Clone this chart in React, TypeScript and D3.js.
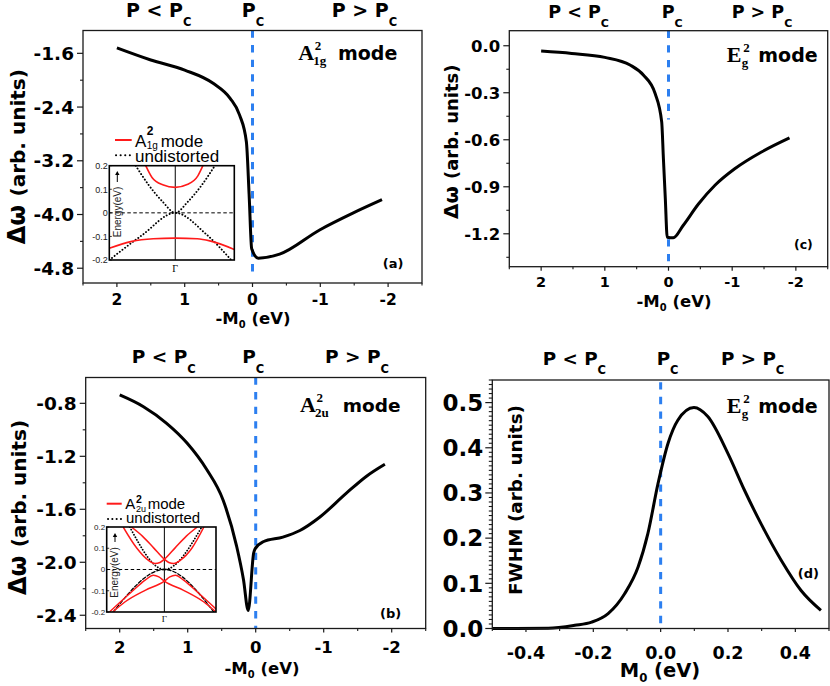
import React from "react";
import * as d3 from "d3";

const SANS = "'DejaVu Sans', Verdana, sans-serif";
const SERIF = "'Liberation Serif', 'Times New Roman', serif";
const HELV = "'Liberation Sans', Arial, sans-serif";
const BLUE = "#2C7FF0";

// ---------- panel (a): A1g mode ----------
const aM = [2.0, 1.5, 1.0, 0.575, 0.33, 0.19, 0.09, 0.05, 0.012, -0.085, -0.4, -0.99, -1.48, -1.91];
const aW = [-1.52, -1.7, -1.85, -2.05, -2.27, -2.52, -2.92, -3.7, -4.51, -4.65, -4.59, -4.23, -3.98, -3.78];
const aYTicks = [-1.6, -2.4, -3.2, -4.0, -4.8];
const aYLabels = ["-1.6", "-2.4", "-3.2", "-4.0", "-4.8"];
const aYMinor = [-2.0, -2.8, -3.6, -4.4];

// ---------- panel (b): A2u mode ----------
const bM = [2.0, 1.65, 1.31, 1.01, 0.72, 0.48, 0.28, 0.18, 0.11, 0.03, 0.01, -0.11, -0.4, -0.65, -0.94, -1.33, -1.63, -1.9];
const bW = [-0.737, -0.826, -0.951, -1.1, -1.3, -1.53, -1.88, -2.13, -2.365, -1.93, -1.9, -1.845, -1.81, -1.76, -1.66, -1.48, -1.35, -1.26];
const bYTicks = [-0.8, -1.2, -1.6, -2.0, -2.4];
const bYLabels = ["-0.8", "-1.2", "-1.6", "-2.0", "-2.4"];
const bYMinor = [-1.0, -1.4, -1.8, -2.2];

// ---------- panel (c): Eg mode ----------
const cM = [2.0, 1.52, 1.0, 0.604, 0.395, 0.21, 0.107, 0.08, 0.05, 0.02, -0.075, -0.23, -0.47, -0.73, -1.04, -1.46, -1.9];
const cW = [-0.034, -0.049, -0.074, -0.123, -0.187, -0.305, -0.486, -0.72, -0.976, -1.222, -1.226, -1.147, -1.01, -0.89, -0.785, -0.678, -0.588];
const cYTicks = [0.0, -0.3, -0.6, -0.9, -1.2];
const cYLabels = ["0.0", "-0.3", "-0.6", "-0.9", "-1.2"];
const cYMinor = [-0.15, -0.45, -0.75, -1.05, -1.35];

// shared x ticks for (a)-(c)
const mXTicks = [2, 1, 0, -1, -2];
const mXLabels = ["2", "1", "0", "-1", "-2"];
const mXMinor = [2.5, 1.5, 0.5, -0.5, -1.5, -2.5];

// ---------- panel (d): FWHM ----------
const dM = [-0.5, -0.334, -0.255, -0.205, -0.156, -0.107, -0.067, -0.038, -0.008, 0.022, 0.051, 0.099, 0.14, 0.2, 0.249, 0.298, 0.358, 0.417, 0.476];
const dF = [0.0, 0.0005, 0.007, 0.014, 0.033, 0.077, 0.136, 0.21, 0.32, 0.41, 0.461, 0.489, 0.469, 0.387, 0.306, 0.232, 0.151, 0.084, 0.04];
const dXTicks = [-0.4, -0.2, 0.0, 0.2, 0.4];
const dXLabels = ["-0.4", "-0.2", "0.0", "0.2", "0.4"];
const dXMinor = [-0.5, -0.3, -0.1, 0.1, 0.3, 0.5];
const dYTicks = [0.0, 0.1, 0.2, 0.3, 0.4, 0.5];
const dYLabels = ["0.0", "0.1", "0.2", "0.3", "0.4", "0.5"];

// ---------- insets (band structure near Gamma) ----------
const insetETicks = [0.2, 0.1, 0, -0.1, -0.2];
const insetELabels = ["0.2", "0.1", "0", "-0.1", "-0.2"];
// inset (a)
const iaRedUpK = [-0.47, -0.37, -0.2, 0, 0.2, 0.36, 0.44];
const iaRedUpE = [0.2, 0.15, 0.119, 0.108, 0.121, 0.157, 0.2];
const iaRedLoK = [-1.05, -0.69, -0.35, 0, 0.35, 0.55, 0.94];
const iaRedLoE = [-0.15, -0.121, -0.11, -0.107, -0.11, -0.119, -0.155];
const iaDotUpK = [-0.63, -0.42, -0.2, 0, 0.2, 0.42, 0.63];
const iaDotUpE = [0.2, 0.117, 0.047, 0, 0.047, 0.117, 0.2];
const iaDotLoK = [-1.05, -0.53, 0, 0.49, 0.94];
const iaDotLoE = [-0.2, -0.095, 0, -0.09, -0.215];
// inset (b)
const ibRedU1K = [-0.75, -0.5, -0.3, -0.17, -0.08, 0, 0.2, 0.4, 0.6];
const ibRedU1E = [0.2, 0.1, 0.045, 0.028, 0.033, 0.048, 0.103, 0.157, 0.2];
const ibRedU2K = [-0.6, -0.4, -0.2, 0, 0.08, 0.17, 0.3, 0.5, 0.72];
const ibRedU2E = [0.2, 0.157, 0.103, 0.048, 0.033, 0.028, 0.045, 0.1, 0.2];
const ibRedL1K = [-1.0, -0.6, -0.35, -0.2, -0.1, 0, 0.35, 0.72, 0.94];
const ibRedL1E = [-0.2, -0.106, -0.05, -0.027, -0.035, -0.055, -0.098, -0.153, -0.2];
const ibRedL2K = [-0.94, -0.72, -0.35, 0, 0.1, 0.2, 0.35, 0.6, 1.0];
const ibRedL2E = [-0.2, -0.153, -0.098, -0.055, -0.035, -0.027, -0.05, -0.106, -0.2];
const ibDotUpK = [-0.63, 0, 0.68];
const ibDotUpE = [0.2, 0, 0.2];
const ibDashLoK = [-0.93, 0, 0.9];
const ibDashLoE = [-0.2, 0, -0.2];

const zip = (a: number[], b: number[]) => a.map((v, i) => [v, b[i]] as [number, number]);

type Box = { left: number; right: number; top: number; bottom: number };

type PanelProps = Box & {
  id: string;
  xDomain: [number, number];
  yDomain: [number, number];
  xTicks: number[]; xLabels: string[]; xMinor: number[];
  yTicks: number[]; yLabels: string[]; yMinor: number[];
  xFont: number; yFont: number; xLabelOffset: number;
  yMajorLen: number; yMinorLen: number; xMajorLen: number; xMinorLen: number;
  data: [number, number][];
  dashes: [number, number][];
};

function Panel(p: PanelProps) {
  const x = d3.scaleLinear().domain(p.xDomain).range([p.left, p.right]);
  const y = d3.scaleLinear().domain(p.yDomain).range([p.bottom, p.top]);
  const line = d3
    .line<[number, number]>()
    .x((d) => x(d[0]))
    .y((d) => y(d[1]))
    .curve(d3.curveMonotoneX);
  const ax = "#1a1a1a";
  return (
    <g>
      {p.dashes.map((s, i) => (
        <line key={"ds" + i} x1={x(0)} x2={x(0)} y1={y(s[0])} y2={y(s[1])} stroke={BLUE} strokeWidth={3} strokeDasharray="7.3,7.3" />
      ))}
      <path d={line(p.data) || ""} fill="none" stroke="#000" strokeWidth={3} strokeLinejoin="round" />
      <rect x={p.left} y={p.top} width={p.right - p.left} height={p.bottom - p.top} fill="none" stroke={ax} strokeWidth={1.3} />
      {p.xTicks.map((t, i) => (
        <g key={"xt" + i}>
          <line x1={x(t)} x2={x(t)} y1={p.bottom} y2={p.bottom + p.xMajorLen} stroke={ax} strokeWidth={1.2} />
          <text x={x(t)} y={p.bottom + p.xLabelOffset} fontFamily={SANS} fontWeight="bold" fontSize={p.xFont} textAnchor="middle">
            {p.xLabels[i]}
          </text>
        </g>
      ))}
      {p.xMinor.map((t, i) => (
        <line key={"xm" + i} x1={x(t)} x2={x(t)} y1={p.bottom} y2={p.bottom + p.xMinorLen} stroke={ax} strokeWidth={1.1} />
      ))}
      {p.yTicks.map((t, i) => (
        <g key={"yt" + i}>
          <line x1={p.left - p.yMajorLen} x2={p.left} y1={y(t)} y2={y(t)} stroke={ax} strokeWidth={1.2} />
          <text x={p.left - 9} y={y(t) + p.yFont * 0.36} fontFamily={SANS} fontWeight="bold" fontSize={p.yFont} textAnchor="end">
            {p.yLabels[i]}
          </text>
        </g>
      ))}
      {p.yMinor.map((t, i) => (
        <line key={"ym" + i} x1={p.left - p.yMinorLen} x2={p.left} y1={y(t)} y2={y(t)} stroke={ax} strokeWidth={1.1} />
      ))}
    </g>
  );
}

type InsetLine = { k: number[]; e: number[]; color: string; dash?: string; width: number };

function Inset(p: Box & { id: string; lines: InsetLine[]; tickFont: number; gammaY: number; arrowX: number; arrowTop: number; arrowBottom: number; energyX: number; energyY: number }) {
  const x = d3.scaleLinear().domain([-1.05, 0.94]).range([p.left, p.right]);
  const y = d3.scaleLinear().domain([-0.2, 0.2]).range([p.bottom, p.top]);
  const line = d3
    .line<[number, number]>()
    .x((d) => x(d[0]))
    .y((d) => y(d[1]))
    .curve(d3.curveMonotoneX);
  return (
    <g>
      <defs>
        <clipPath id={p.id}>
          <rect x={p.left} y={p.top} width={p.right - p.left} height={p.bottom - p.top} />
        </clipPath>
      </defs>
      <rect x={p.left} y={p.top} width={p.right - p.left} height={p.bottom - p.top} fill="#fff" />
      <g clipPath={`url(#${p.id})`}>
        <line x1={x(0)} x2={x(0)} y1={p.top} y2={p.bottom} stroke="#000" strokeWidth={1} />
        <line x1={p.left} x2={p.right} y1={y(0)} y2={y(0)} stroke="#000" strokeWidth={1} strokeDasharray="3.5,2.5" />
        {p.lines.map((l, i) => (
          <path key={i} d={line(zip(l.k, l.e)) || ""} fill="none" stroke={l.color} strokeWidth={l.width} strokeDasharray={l.dash} strokeLinecap={l.dash ? "round" : "butt"} />
        ))}
      </g>
      <rect x={p.left} y={p.top} width={p.right - p.left} height={p.bottom - p.top} fill="none" stroke="#000" strokeWidth={1.6} />
      {insetETicks.map((t, i) => (
        <g key={i}>
          <line x1={p.left} x2={p.left + 2.5} y1={y(t)} y2={y(t)} stroke="#000" strokeWidth={0.8} />
          <text x={p.left - 1.5} y={y(t) + p.tickFont * 0.36} fontFamily={HELV} fontSize={p.tickFont} textAnchor="end" fill="#222">
            {insetELabels[i]}
          </text>
        </g>
      ))}
      <text x={x(0)} y={p.gammaY} fontFamily={SERIF} fontSize={p.tickFont + 1} textAnchor="middle">Γ</text>
      <text transform={`translate(${p.energyX},${p.energyY}) rotate(-90)`} fontFamily={HELV} fontSize={10} textAnchor="middle" fill="#222">
        Energy(eV)
      </text>
      <line x1={p.arrowX} x2={p.arrowX} y1={p.arrowBottom} y2={p.arrowTop + 3} stroke="#000" strokeWidth={1} />
      <path d={`M${p.arrowX - 2.2},${p.arrowTop + 4} L${p.arrowX},${p.arrowTop} L${p.arrowX + 2.2},${p.arrowTop + 4} Z`} fill="#000" />
    </g>
  );
}

function PLabels({ xs, y, size, sub }: { xs: number[]; y: number; size: number; sub: number }) {
  const texts = ["P < P", "P", "P > P"];
  return (
    <g fontFamily={SANS} fontWeight="bold">
      {xs.map((x, i) => (
        <text key={i} x={x} y={y} fontSize={size}>
          {texts[i]}
          <tspan fontSize={sub} dy={size * 0.5}>C</tspan>
        </text>
      ))}
    </g>
  );
}

function ModeLabel({ x, y, main, sup, sub, modeX, mSize }: { x: number; y: number; main: string; sup: string; sub: string; modeX: number; mSize: number }) {
  return (
    <text x={x} y={y} fontWeight="bold" fontFamily={SERIF} fontSize={22}>
      {main}
      <tspan x={x + 16.5} dy={-10} fontSize={13}>{sup}</tspan>
      <tspan x={x + 15} dy={15} fontSize={13}>{sub}</tspan>
      <tspan x={modeX} dy={-5} fontFamily={SANS} fontSize={mSize}>mode</tspan>
    </text>
  );
}

function LegendMode({ x, y, size, supX, supDy, supSize, subDy, subSize, sub, modeX }: { x: number; y: number; size: number; supX: number; supDy: number; supSize: number; subDy: number; subSize: number; sub: string; modeX: number }) {
  return (
    <text x={x} y={y} fontFamily={HELV} fontSize={size}>
      A
      <tspan x={supX} dy={supDy} fontSize={supSize} fontWeight="bold">2</tspan>
      <tspan x={supX} dy={subDy - supDy} fontSize={subSize}>{sub}</tspan>
      <tspan x={modeX} dy={-subDy}>mode</tspan>
    </text>
  );
}

function YTitle({ x, y, prefix, rest, pSize, rSize }: { x: number; y: number; prefix: string; rest: string; pSize: number; rSize: number }) {
  return (
    <text transform={`translate(${x},${y}) rotate(-90)`} textAnchor="middle" fontFamily={SANS} fontWeight="bold">
      <tspan fontSize={pSize}>{prefix}</tspan>
      <tspan fontSize={rSize}>{rest}</tspan>
    </text>
  );
}

function XTitle({ x, y, pre, post, size }: { x: number; y: number; pre: string; post: string; size: number }) {
  return (
    <text x={x} y={y} textAnchor="middle" fontFamily={SANS} fontWeight="bold" fontSize={size}>
      {pre}
      <tspan fontSize={size * 0.6} dy={size * 0.25}>0</tspan>
      <tspan dy={-size * 0.25}>{post}</tspan>
    </text>
  );
}

export default function App() {
  const common = { yMajorLen: 6, yMinorLen: 3, xMajorLen: 4, xMinorLen: 2.5 };
  const dYMinor = d3.range(0, 0.5501, 0.01).filter((v) => Math.abs(v * 10 - Math.round(v * 10)) > 1e-6);
  return (
    <svg width={830} height={686} style={{ position: "absolute", left: 0, top: 0, background: "#fff" }}>
      <rect x={0} y={0} width={830} height={686} fill="#fff" />
      {/* (a) */}
      <Panel id="a" left={83} right={422} top={30.5} bottom={283} xDomain={[2.5, -2.5]} yDomain={[-5.02, -1.26]}
        xTicks={mXTicks} xLabels={mXLabels} xMinor={mXMinor} yTicks={aYTicks} yLabels={aYLabels} yMinor={aYMinor}
        xFont={15.5} yFont={18.5} xLabelOffset={22} {...common} data={zip(aM, aW)} dashes={[[-1.26, -4.85]]} />
      <PLabels xs={[126, 241.7, 331.7]} y={16.7} size={19} sub={11.5} />
      <ModeLabel x={298.3} y={60} main="A" sup="2" sub="1g" modeX={338} mSize={19} />
      <text x={382.7} y={268} fontFamily={SANS} fontWeight="bold" fontSize={13}>(a)</text>
      <YTitle x={25} y={156.7} prefix="Δω " rest="(arb. units)" pSize={24} rSize={20} />
      <XTitle x={253} y={324} pre="-M" post=" (eV)" size={16.5} />
      <Inset id="ia" left={109.3} right={234.3} top={165.7} bottom={260} tickFont={9} gammaY={271.5}
        arrowX={117.3} arrowTop={171} arrowBottom={182} energyX={120.5} energyY={212}
        lines={[
          { k: iaDotUpK, e: iaDotUpE, color: "#000", dash: "0.1,3.2", width: 1.9 },
          { k: iaDotLoK, e: iaDotLoE, color: "#000", dash: "0.1,3.2", width: 1.9 },
          { k: iaRedUpK, e: iaRedUpE, color: "#ff1a1a", width: 1.6 },
          { k: iaRedLoK, e: iaRedLoE, color: "#ff1a1a", width: 1.6 },
        ]} />
      <line x1={115} x2={131.7} y1={140} y2={140} stroke="#ff1a1a" strokeWidth={2} />
      <LegendMode x={135} y={146.7} size={17} supX={146.7} supDy={-11.7} supSize={12} subDy={1.8} subSize={10} sub="1g" modeX={160.7} />
      <line x1={116} x2={131.7} y1={155.3} y2={155.3} stroke="#000" strokeWidth={2} strokeDasharray="0.1,4.5" strokeLinecap="round" />
      <text x={135} y={161.7} fontFamily={HELV} fontSize={17}>undistorted</text>

      {/* (b) */}
      <Panel id="b" left={85.7} right={425.7} top={377.5} bottom={628.5} xDomain={[2.5, -2.5]} yDomain={[-2.5, -0.605]}
        xTicks={mXTicks} xLabels={mXLabels} xMinor={mXMinor} yTicks={bYTicks} yLabels={bYLabels} yMinor={bYMinor}
        xFont={16.5} yFont={18.5} xLabelOffset={24.5} {...common} data={zip(bM, bW)} dashes={[[-0.605, -2.5]]} />
      <PLabels xs={[131.7, 242.3, 325]} y={363.3} size={18.5} sub={11.5} />
      <ModeLabel x={300} y={412} main="A" sup="2" sub="2u" modeX={342.7} mSize={18.5} />
      <text x={380} y={618} fontFamily={SANS} fontWeight="bold" fontSize={13}>(b)</text>
      <YTitle x={26} y={507.5} prefix="Δω " rest="(arb. units)" pSize={24} rSize={20} />
      <XTitle x={262} y={674} pre="-M" post=" (eV)" size={16.5} />
      <Inset id="ib" left={106.7} right={216} top={527} bottom={612} tickFont={8} gammaY={621.5}
        arrowX={115} arrowTop={533} arrowBottom={542} energyX={118} energyY={572.5}
        lines={[
          { k: ibDotUpK, e: ibDotUpE, color: "#000", dash: "0.1,2.8", width: 1.8 },
          { k: ibDashLoK, e: ibDashLoE, color: "#000", dash: "3.5,2", width: 1.3 },
          { k: ibRedU1K, e: ibRedU1E, color: "#ff1a1a", width: 1.5 },
          { k: ibRedU2K, e: ibRedU2E, color: "#ff1a1a", width: 1.5 },
          { k: ibRedL1K, e: ibRedL1E, color: "#ff1a1a", width: 1.5 },
          { k: ibRedL2K, e: ibRedL2E, color: "#ff1a1a", width: 1.5 },
        ]} />
      <line x1={106.7} x2={121.7} y1={503.7} y2={503.7} stroke="#ff1a1a" strokeWidth={2} />
      <LegendMode x={125.3} y={509} size={15} supX={136} supDy={-6} supSize={10.5} subDy={2.5} subSize={9} sub="2u" modeX={147.7} />
      <line x1={108} x2={122.7} y1={519} y2={519} stroke="#000" strokeWidth={2} strokeDasharray="0.1,4.2" strokeLinecap="round" />
      <text x={126} y={523.3} fontFamily={HELV} fontSize={15}>undistorted</text>

      {/* (c) */}
      <Panel id="c" left={509.3} right={827.7} top={30.7} bottom={266.7} xDomain={[2.5, -2.5]} yDomain={[-1.41, 0.096]}
        xTicks={mXTicks} xLabels={mXLabels} xMinor={mXMinor} yTicks={cYTicks} yLabels={cYLabels} yMinor={cYMinor}
        xFont={14.5} yFont={16.5} xLabelOffset={20.6} {...common} data={zip(cM, cW)} dashes={[[0.096, -0.47], [-1.235, -1.38]]} />
      <PLabels xs={[548.3, 661.7, 731.7]} y={18.3} size={17.5} sub={11} />
      <ModeLabel x={726.7} y={61.7} main="E" sup="2" sub="g" modeX={758.3} mSize={19} />
      <text x={794} y={249} fontFamily={SANS} fontWeight="bold" fontSize={12.5}>(c)</text>
      <YTitle x={457.5} y={141.7} prefix="Δω " rest="(arb. units)" pSize={20} rSize={18} />
      <XTitle x={674} y={307} pre="-M" post=" (eV)" size={16.5} />

      {/* (d) */}
      <Panel id="d" left={492.3} right={829} top={380} bottom={628.5} xDomain={[-0.5, 0.5]} yDomain={[0, 0.55]}
        xTicks={dXTicks} xLabels={dXLabels} xMinor={dXMinor} yTicks={dYTicks} yLabels={dYLabels} yMinor={dYMinor}
        xFont={17.5} yFont={23} xLabelOffset={30} yMajorLen={7} yMinorLen={3.5} xMajorLen={3.5} xMinorLen={2.5}
        data={zip(dM, dF)} dashes={[[0.545, 0.004]]} />
      <PLabels xs={[542.7, 656.7, 721]} y={365} size={18.3} sub={11.5} />
      <ModeLabel x={726.7} y={413} main="E" sup="2" sub="g" modeX={758.3} mSize={19} />
      <text x={797.7} y={578} fontFamily={SANS} fontWeight="bold" fontSize={13}>(d)</text>
      <YTitle x={521.5} y={500} prefix="FWHM " rest="(arb. units)" pSize={18.4} rSize={18.4} />
      <XTitle x={660} y={677} pre="M" post="  (eV)" size={19.5} />
    </svg>
  );
}
